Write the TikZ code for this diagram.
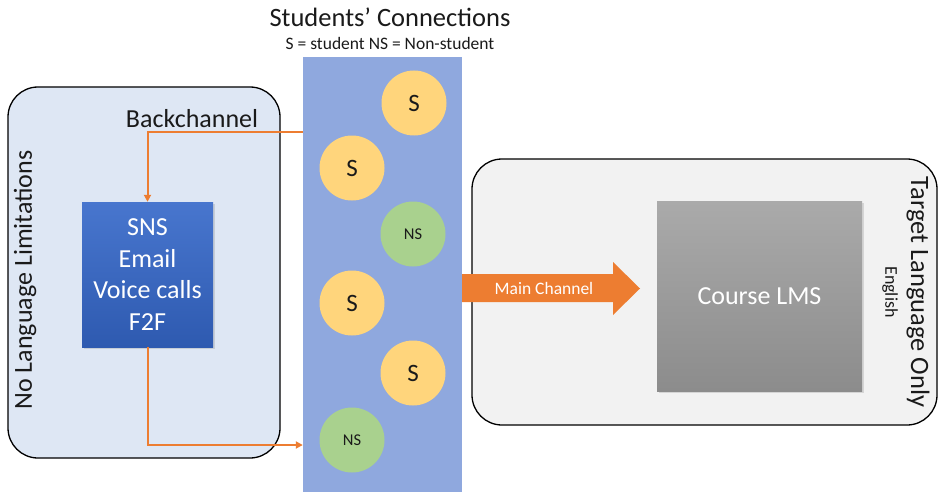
\documentclass[tikz,border=0pt]{standalone}
\usepackage{fontspec}
\setmainfont{Carlito}
\usetikzlibrary{arrows.meta,shadows}
\definecolor{orng}{HTML}{ED7D31}
\definecolor{colfill}{HTML}{8FA8DE}
\definecolor{leftfill}{HTML}{DEE7F4}
\definecolor{rightfill}{HTML}{F2F2F2}
\definecolor{sfill}{HTML}{FFD57C}
\definecolor{nsfill}{HTML}{A9D18E}
\definecolor{txt}{HTML}{1A1A1A}
\definecolor{snstop}{HTML}{4876CE}
\definecolor{snsbot}{HTML}{2E5AB0}
\definecolor{lmstop}{HTML}{AAAAAA}
\definecolor{lmsbot}{HTML}{8C8C8C}
\tikzset{
  panel/.style={draw=black, line width=1.3pt, rounded corners=30pt, inner sep=0pt},
  circS/.style={circle, fill=sfill, minimum size=65pt, inner sep=0pt, font=\fontsize{25}{27}\selectfont, text=txt},
  circNS/.style={circle, fill=nsfill, minimum size=65pt, inner sep=0pt, font=\fontsize{16.5}{18}\selectfont, text=txt},
  conn/.style={draw=orng, line width=2pt, -{Triangle[length=7pt,width=7pt]}},
  lbl/.style={text=txt, inner sep=0pt},
  shad/.style={drop shadow={opacity=0.25,shadow xshift=1.5pt,shadow yshift=-1.5pt}},
}
\begin{document}
\begin{tikzpicture}[x=1pt,y=-1pt]
\useasboundingbox[fill=white] (0,0) rectangle (939,492);
% panels
\node[panel, fill=leftfill, minimum width=272pt, minimum height=371pt] (leftbox) at (144,272.5) {};
\node[panel, fill=rightfill, minimum width=465pt, minimum height=266pt] (rightbox) at (704.5,292) {};
\node[fill=colfill, minimum width=159pt, minimum height=435pt, inner sep=0pt] (column) at (382.5,274.5) {};
% titles
\node[lbl, font=\fontsize{26.5}{28}\selectfont] (title) at (390,17) {Students’ Connections};
\node[lbl, font=\fontsize{17.5}{19}\selectfont] (subtitle) at (390,43) {S = student NS = Non-student};
\node[lbl, font=\fontsize{26}{28}\selectfont] (back) at (192,119) {Backchannel};
\node[lbl, font=\fontsize{26}{28}\selectfont, rotate=90] (nolang) at (25,280) {No Language Limitations};
\node[lbl, font=\fontsize{26.5}{28}\selectfont, rotate=-90] (target) at (918,292) {Target Language Only};
\node[lbl, font=\fontsize{18}{20}\selectfont, rotate=-90] (english) at (890,292) {English};
% SNS box
\node[shad, top color=snstop, bottom color=snsbot,
      minimum width=131pt, minimum height=145pt, inner sep=0pt, text=white, align=center,
      font=\fontsize{26}{31.5}\selectfont] (sns) at (147.5,274.5)
      {SNS\\Email\\Voice calls\\F2F};
% LMS box
\node[shad, top color=lmstop, bottom color=lmsbot,
      minimum width=205pt, minimum height=190pt, inner sep=0pt, text=white,
      font=\fontsize{26}{28}\selectfont] (lms) at (759.5,296) {Course LMS};
% circles
\node[circS] (s1) at (414,103) {S};
\node[circS] (s2) at (352,168) {S};
\node[circNS] (ns1) at (413,234) {NS};
\node[circS] (s3) at (352,303) {S};
\node[circS] (s4) at (413,373) {S};
\node[circNS] (ns2) at (352,440) {NS};
% main channel arrow
\fill[orng] (462,274) -- (613,274) -- (613,262) -- (640,288.5) -- (613,315) -- (613,302) -- (462,302) -- cycle;
\node[text=white, inner sep=0pt, font=\fontsize{17.5}{19}\selectfont] (mainch) at (544,288.5) {Main Channel};
% connectors
\coordinate (bstart) at (column.west |- 0,132);
\coordinate (bend) at (column.west |- 0,445);
\draw[conn] (bstart) -| (sns.north);
\draw[conn] (sns.south) |- (bend);
\end{tikzpicture}
\end{document}
